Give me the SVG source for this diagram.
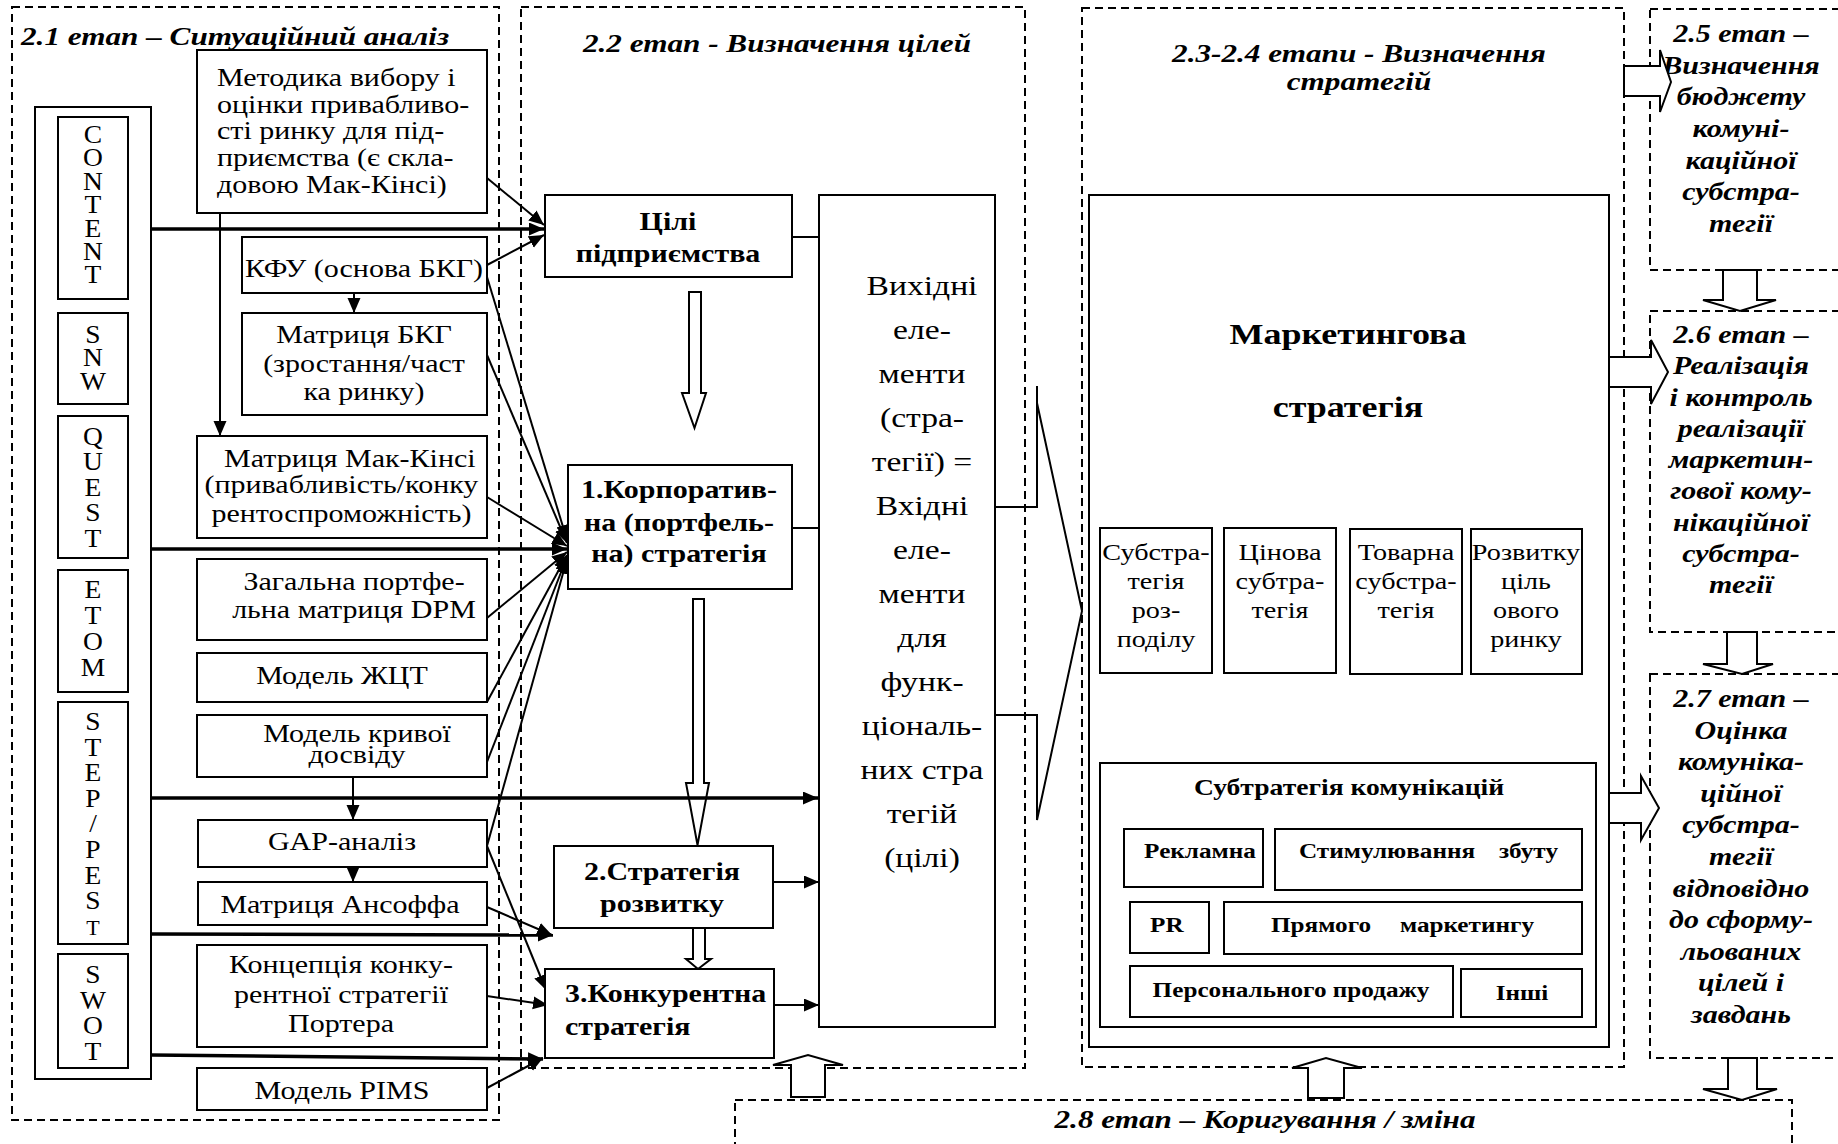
<svg xmlns="http://www.w3.org/2000/svg" width="1838" height="1144" viewBox="0 0 1838 1144">
  <defs>
    <style>
      text { font-family: "Liberation Serif", "Times New Roman", serif; font-size: 25px; fill: #000; }
      .c { text-anchor: middle; }
      .e { text-anchor: end; }
      .b { font-weight: bold; }
      .bi { font-weight: bold; font-style: italic; font-size: 26px; }
      .box { fill: #fff; stroke: #000; stroke-width: 2; }
      .frame { fill: none; stroke: #000; stroke-width: 2; stroke-dasharray: 8 5; }
      .ln { fill: none; stroke: #000; stroke-width: 2; }
      .thick { fill: none; stroke: #000; stroke-width: 3.5; }
      .hollow { fill: #fff; stroke: #000; stroke-width: 2; stroke-linejoin: miter; }
    </style>
    <marker id="ah" markerUnits="userSpaceOnUse" markerWidth="16" markerHeight="14" refX="15" refY="6.5" orient="auto">
      <path d="M0,0 L15,6.5 L0,13 z" fill="#000"/>
    </marker>
  </defs>

  <rect x="0" y="0" width="1838" height="1144" fill="#fff"/>

  <!-- stage frames (dashed) with their headings -->
  <g id="stage-frames">
    <rect class="frame" x="12" y="7" width="487" height="1113"/>
    <text class="bi" transform="translate(21,45) scale(1.2,1)">2.1 етап – Ситуаційний аналіз</text>

    <rect class="frame" x="521" y="7" width="504" height="1061"/>
    <text class="bi c" transform="translate(777,52) scale(1.2,1)">2.2 етап - Визначення цілей</text>

    <rect class="frame" x="1082" y="8" width="542" height="1059"/>
    <text class="bi c" transform="translate(1359,62) scale(1.2,1)"><tspan x="0" y="0">2.3-2.4 етапи - Визначення</tspan><tspan x="0" y="28">стратегій</tspan></text>

    <rect class="frame" x="1650" y="9" width="192" height="261"/>
    <text class="bi c" transform="translate(1741,42) scale(1.2,1)" style="font-size:25px"><tspan x="0" y="0">2.5 етап –</tspan><tspan x="0" y="31.7">Визначення</tspan><tspan x="0" y="63.4">бюджету</tspan><tspan x="0" y="95.1">комуні-</tspan><tspan x="0" y="126.8">каційної</tspan><tspan x="0" y="158.5">субстра-</tspan><tspan x="0" y="190.2">тегії</tspan></text>

    <rect class="frame" x="1650" y="311" width="192" height="321"/>
    <text class="bi c" transform="translate(1741,343) scale(1.2,1)" style="font-size:25px"><tspan x="0" y="0">2.6 етап –</tspan><tspan x="0" y="31.3">Реалізація</tspan><tspan x="0" y="62.6">і контроль</tspan><tspan x="0" y="93.9">реалізації</tspan><tspan x="0" y="125.2">маркетин-</tspan><tspan x="0" y="156.5">гової кому-</tspan><tspan x="0" y="187.8">нікаційної</tspan><tspan x="0" y="219.1">субстра-</tspan><tspan x="0" y="250.4">тегії</tspan></text>

    <rect class="frame" x="1650" y="674" width="192" height="384"/>
    <text class="bi c" transform="translate(1741,707) scale(1.2,1)" style="font-size:25px"><tspan x="0" y="0">2.7 етап –</tspan><tspan x="0" y="31.6">Оцінка</tspan><tspan x="0" y="63.2">комуніка-</tspan><tspan x="0" y="94.8">ційної</tspan><tspan x="0" y="126.4">субстра-</tspan><tspan x="0" y="158">тегії</tspan><tspan x="0" y="189.6">відповідно</tspan><tspan x="0" y="221.2">до сформу-</tspan><tspan x="0" y="252.8">льованих</tspan><tspan x="0" y="284.4">цілей і</tspan><tspan x="0" y="316">завдань</tspan></text>

    <rect class="frame" x="735" y="1100" width="1057" height="60"/>
    <text class="bi c" transform="translate(1265,1128) scale(1.2,1)">2.8 етап – Коригування / зміна</text>
  </g>

  <!-- block (hollow) arrows between stages and strategies -->
  <g id="block-arrows">
    <polygon class="hollow" points="689,292 701,292 701,393 706,393 694.5,428 682,393 689,393"/>
    <polygon class="hollow" points="693,599 704,599 704,783 709,783 697.5,845 686,783 693,783"/>
    <polygon class="hollow" points="693,928 705,928 705,959 711,959 698,969 686,959 693,959"/>
    <polygon class="hollow" points="791,1097 825,1097 825,1065 843,1065 808,1055 773,1065 791,1065"/>
    <polygon class="hollow" points="1308,1098 1344,1098 1344,1068 1362,1068 1326,1058 1292,1068 1308,1068"/>
    <polygon class="hollow" points="1624,66 1660,66 1660,50 1671,82 1660,112 1660,96 1624,96"/>
    <polygon class="hollow" points="1587,357 1651,357 1651,340 1668,372 1651,404 1651,387 1587,387"/>
    <polygon class="hollow" points="1587,793 1641,793 1641,776 1659,808 1641,840 1641,823 1587,823"/>
    <polygon class="hollow" points="1723,270 1757,270 1757,300 1776,300 1740,311 1703,300 1723,300"/>
    <polygon class="hollow" points="1727,632 1757,632 1757,664 1773,664 1742,674 1703,664 1727,664"/>
    <polygon class="hollow" points="1728,1058 1757,1058 1757,1089 1777,1089 1742,1100 1703,1089 1728,1089"/>
    <!-- large arrow from the output elements to the marketing strategy -->
    <polyline class="ln" points="995,507 1037,507 1037,386"/>
    <polyline class="ln" points="1037,403 1082,611 1037,820 1037,715 986,715 986,778"/>
  </g>

  <!-- connectors -->
  <g id="connectors">
    <line class="ln" x1="220" y1="213" x2="220" y2="436" marker-end="url(#ah)"/>
    <line class="ln" x1="354" y1="293" x2="354" y2="313" marker-end="url(#ah)"/>
    <line class="ln" x1="353" y1="777" x2="353" y2="820" marker-end="url(#ah)"/>
    <line class="ln" x1="353" y1="867" x2="353" y2="882" marker-end="url(#ah)"/>

    <line class="thick" x1="151" y1="229" x2="544" y2="229" marker-end="url(#ah)"/>
    <line class="thick" x1="151" y1="549" x2="567" y2="549" marker-end="url(#ah)"/>
    <line class="thick" x1="151" y1="798" x2="818" y2="798" marker-end="url(#ah)"/>
    <line class="thick" x1="151" y1="934" x2="553" y2="935" marker-end="url(#ah)"/>
    <line class="thick" x1="151" y1="1055" x2="543" y2="1059" marker-end="url(#ah)"/>

    <line class="ln" x1="487" y1="178" x2="544" y2="225" marker-end="url(#ah)"/>
    <line class="ln" x1="487" y1="265" x2="544" y2="235" marker-end="url(#ah)"/>
    <line class="ln" x1="487" y1="277" x2="567" y2="540" marker-end="url(#ah)"/>
    <line class="ln" x1="487" y1="355" x2="567" y2="543" marker-end="url(#ah)"/>
    <line class="ln" x1="487" y1="497" x2="567" y2="546" marker-end="url(#ah)"/>
    <line class="ln" x1="487" y1="618" x2="567" y2="552" marker-end="url(#ah)"/>
    <line class="ln" x1="487" y1="702" x2="567" y2="555" marker-end="url(#ah)"/>
    <line class="ln" x1="487" y1="762" x2="567" y2="557" marker-end="url(#ah)"/>
    <line class="ln" x1="487" y1="846" x2="567" y2="559" marker-end="url(#ah)"/>
    <line class="ln" x1="487" y1="846" x2="546" y2="990" marker-end="url(#ah)"/>
    <line class="ln" x1="487" y1="907" x2="552" y2="935" marker-end="url(#ah)"/>
    <line class="ln" x1="487" y1="996" x2="548" y2="1005" marker-end="url(#ah)"/>
    <line class="ln" x1="487" y1="1088" x2="543" y2="1058" marker-end="url(#ah)"/>

    <line class="ln" x1="792" y1="237" x2="837" y2="237" marker-end="url(#ah)"/>
    <line class="ln" x1="792" y1="528" x2="837" y2="528" marker-end="url(#ah)"/>
    <line class="ln" x1="773" y1="882" x2="819" y2="882" marker-end="url(#ah)"/>
    <line class="ln" x1="774" y1="1005" x2="819" y2="1005" marker-end="url(#ah)"/>
  </g>

  <!-- analysis tools column -->
  <g id="n-letters">
    <rect class="box" x="35" y="107" width="116" height="972"/>
    <rect class="box" x="58" y="117" width="70" height="182"/>
    <text class="c" transform="translate(93,143) scale(1.1,1)"><tspan x="0" y="0">C</tspan><tspan x="0" y="23.4">O</tspan><tspan x="0" y="46.8">N</tspan><tspan x="0" y="70.2">T</tspan><tspan x="0" y="93.6">E</tspan><tspan x="0" y="117">N</tspan><tspan x="0" y="140.4">T</tspan></text>
    <rect class="box" x="58" y="313" width="70" height="91"/>
    <text class="c" transform="translate(93,343) scale(1.1,1)"><tspan x="0" y="0">S</tspan><tspan x="0" y="23.5">N</tspan><tspan x="0" y="47">W</tspan></text>
    <rect class="box" x="58" y="416" width="70" height="142"/>
    <text class="c" transform="translate(93,445) scale(1.1,1)"><tspan x="0" y="0">Q</tspan><tspan x="0" y="25.5">U</tspan><tspan x="0" y="51">E</tspan><tspan x="0" y="76.5">S</tspan><tspan x="0" y="102">T</tspan></text>
    <rect class="box" x="58" y="570" width="70" height="122"/>
    <text class="c" transform="translate(93,598) scale(1.1,1)"><tspan x="0" y="0">E</tspan><tspan x="0" y="26">T</tspan><tspan x="0" y="52">O</tspan><tspan x="0" y="78">M</tspan></text>
    <rect class="box" x="58" y="702" width="70" height="242"/>
    <text class="c" transform="translate(93,730) scale(1.1,1)"><tspan x="0" y="0">S</tspan><tspan x="0" y="25.6">T</tspan><tspan x="0" y="51.2">E</tspan><tspan x="0" y="76.8">P</tspan><tspan x="0" y="102.4">/</tspan><tspan x="0" y="128">P</tspan><tspan x="0" y="153.6">E</tspan><tspan x="0" y="179.2">S</tspan><tspan x="0" y="204.8" style="font-size:20px">T</tspan></text>
    <rect class="box" x="58" y="954" width="70" height="114"/>
    <text class="c" transform="translate(93,983) scale(1.1,1)"><tspan x="0" y="0">S</tspan><tspan x="0" y="25.7">W</tspan><tspan x="0" y="51.4">O</tspan><tspan x="0" y="77.1">T</tspan></text>
  </g>

  <g id="n-metodyka">
    <rect class="box" x="197" y="50" width="290" height="163"/>
    <text transform="translate(217,86) scale(1.2,1)"><tspan x="0" y="0">Методика вибору і</tspan><tspan x="0" y="26.7">оцінки привабливо-</tspan><tspan x="0" y="53.4">сті ринку для під-</tspan><tspan x="0" y="80.1">приємства (є скла-</tspan><tspan x="0" y="106.8">довою Мак-Кінсі)</tspan></text>
  </g>
  <g id="n-kfu">
    <rect class="box" x="242" y="237" width="245" height="56"/>
    <text class="c" transform="translate(364,277) scale(1.2,1)">КФУ (основа БКГ)</text>
  </g>
  <g id="n-bkg">
    <rect class="box" x="242" y="313" width="245" height="102"/>
    <text class="c" transform="translate(364,343) scale(1.2,1)"><tspan x="0" y="0">Матриця БКГ</tspan><tspan x="0" y="29">(зростання/част</tspan><tspan x="0" y="57">ка ринку)</tspan></text>
  </g>
  <g id="n-mckinsey">
    <rect class="box" x="197" y="436" width="290" height="102"/>
    <text class="c" transform="translate(345,467) scale(1.2,1)"><tspan x="4" y="0">Матриця Мак-Кінсі</tspan><tspan x="-3" y="26.5">(привабливість/конку</tspan><tspan x="-3" y="55">рентоспроможність)</tspan></text>
  </g>
  <g id="n-dpm">
    <rect class="box" x="197" y="559" width="290" height="81"/>
    <text class="c" transform="translate(354,590) scale(1.2,1)"><tspan x="0" y="0">Загальна портфе-</tspan><tspan x="0" y="28">льна матриця DPM</tspan></text>
  </g>
  <g id="n-zhct">
    <rect class="box" x="197" y="653" width="290" height="49"/>
    <text class="c" transform="translate(342,684) scale(1.2,1)">Модель ЖЦТ</text>
  </g>
  <g id="n-kryva">
    <rect class="box" x="197" y="715" width="290" height="62"/>
    <text class="c" transform="translate(357,742) scale(1.2,1)"><tspan x="0" y="0">Модель кривої</tspan><tspan x="0" y="21">досвіду</tspan></text>
  </g>
  <g id="n-gap">
    <rect class="box" x="198" y="820" width="289" height="47"/>
    <text class="c" transform="translate(342,850) scale(1.2,1)">GAP-аналіз</text>
  </g>
  <g id="n-ansoff">
    <rect class="box" x="198" y="882" width="289" height="43"/>
    <text class="c" transform="translate(340,913) scale(1.2,1)">Матриця Ансоффа</text>
  </g>
  <g id="n-porter">
    <rect class="box" x="197" y="945" width="290" height="102"/>
    <text class="c" transform="translate(341,973) scale(1.2,1)"><tspan x="0" y="0">Концепція конку-</tspan><tspan x="0" y="30">рентної стратегії</tspan><tspan x="0" y="59">Портера</tspan></text>
  </g>
  <g id="n-pims">
    <rect class="box" x="197" y="1068" width="290" height="42"/>
    <text class="c" transform="translate(342,1099) scale(1.2,1)">Модель PIMS</text>
  </g>

  <!-- goals and strategy levels -->
  <g id="n-tsili">
    <rect class="box" x="545" y="195" width="247" height="82"/>
    <text class="c b" transform="translate(668,230) scale(1.2,1)"><tspan x="0" y="0">Цілі</tspan><tspan x="0" y="32">підприємства</tspan></text>
  </g>
  <g id="n-korp">
    <rect class="box" x="568" y="465" width="224" height="124"/>
    <text class="c b" transform="translate(679,498) scale(1.2,1)"><tspan x="0" y="0">1.Корпоратив-</tspan><tspan x="0" y="33">на (портфель-</tspan><tspan x="0" y="64">на) стратегія</tspan></text>
  </g>
  <g id="n-rozv">
    <rect class="box" x="554" y="846" width="219" height="82"/>
    <text class="c b" transform="translate(662,880) scale(1.2,1)"><tspan x="0" y="0">2.Стратегія</tspan><tspan x="0" y="32">розвитку</tspan></text>
  </g>
  <g id="n-konk">
    <rect class="box" x="545" y="969" width="229" height="89"/>
    <text class="b" transform="translate(565,1002) scale(1.2,1)"><tspan x="0" y="0">3.Конкурентна</tspan><tspan x="0" y="33">стратегія</tspan></text>
  </g>
  <g id="n-vykhidni">
    <rect class="box" x="819" y="195" width="176" height="832"/>
    <text class="c" transform="translate(922,295) scale(1.2,1)" style="font-size:28px"><tspan x="0" y="0">Вихідні</tspan><tspan x="0" y="44">еле-</tspan><tspan x="0" y="88">менти</tspan><tspan x="0" y="132">(стра-</tspan><tspan x="0" y="176">тегії) =</tspan><tspan x="0" y="220">Вхідні</tspan><tspan x="0" y="264">еле-</tspan><tspan x="0" y="308">менти</tspan><tspan x="0" y="352">для</tspan><tspan x="0" y="396">функ-</tspan><tspan x="0" y="440">ціональ-</tspan><tspan x="0" y="484">них стра</tspan><tspan x="0" y="528">тегій</tspan><tspan x="0" y="572">(цілі)</tspan></text>
  </g>

  <!-- marketing strategy -->
  <g id="n-marketing">
    <rect class="box" x="1089" y="195" width="520" height="852"/>
    <text class="c b" transform="translate(1348,344) scale(1.2,1)" style="font-size:30px"><tspan x="0" y="0">Маркетингова</tspan><tspan x="0" y="73">стратегія</tspan></text>
  </g>
  <g id="n-rozpodil">
    <rect class="box" x="1100" y="528" width="112" height="145"/>
    <text class="c" transform="translate(1156,560) scale(1.2,1)" style="font-size:23.5px"><tspan x="0" y="0">Субстра-</tspan><tspan x="0" y="29">тегія</tspan><tspan x="0" y="58">роз-</tspan><tspan x="0" y="87">поділу</tspan></text>
  </g>
  <g id="n-tsinova">
    <rect class="box" x="1224" y="528" width="112" height="145"/>
    <text class="c" transform="translate(1280,560) scale(1.2,1)" style="font-size:23.5px"><tspan x="0" y="0">Цінова</tspan><tspan x="0" y="29">субтра-</tspan><tspan x="0" y="58">тегія</tspan></text>
  </g>
  <g id="n-tovarna">
    <rect class="box" x="1350" y="529" width="112" height="145"/>
    <text class="c" transform="translate(1406,560) scale(1.2,1)" style="font-size:23.5px"><tspan x="0" y="0">Товарна</tspan><tspan x="0" y="29">субстра-</tspan><tspan x="0" y="58">тегія</tspan></text>
  </g>
  <g id="n-rozvytku">
    <rect class="box" x="1471" y="529" width="111" height="145"/>
    <text class="c" transform="translate(1526,560) scale(1.2,1)" style="font-size:23.5px"><tspan x="0" y="0">Розвитку</tspan><tspan x="0" y="29">ціль</tspan><tspan x="0" y="58">ового</tspan><tspan x="0" y="87">ринку</tspan></text>
  </g>
  <g id="n-komunikatsii">
    <rect class="box" x="1100" y="763" width="496" height="264"/>
    <text class="c b" transform="translate(1349,795) scale(1.2,1)" style="font-size:23px">Субтратегія комунікацій</text>
  </g>
  <g id="n-reklamna">
    <rect class="box" x="1124" y="829" width="139" height="58"/>
    <text class="c b" transform="translate(1200,858) scale(1.2,1)" style="font-size:21px">Рекламна</text>
  </g>
  <g id="n-stymul">
    <rect class="box" x="1275" y="829" width="307" height="61"/>
    <text class="b" transform="translate(1299,858) scale(1.2,1)" style="font-size:21px">Стимулювання</text>
    <text class="b e" transform="translate(1558,858) scale(1.2,1)" style="font-size:21px">збуту</text>
  </g>
  <g id="n-pr">
    <rect class="box" x="1130" y="902" width="79" height="51"/>
    <text class="b" transform="translate(1150,932) scale(1.2,1)" style="font-size:21px">PR</text>
  </g>
  <g id="n-priamyi">
    <rect class="box" x="1224" y="902" width="358" height="52"/>
    <text class="b" transform="translate(1271,932) scale(1.2,1)" style="font-size:21px">Прямого</text>
    <text class="b e" transform="translate(1534,932) scale(1.2,1)" style="font-size:21px">маркетингу</text>
  </g>
  <g id="n-personal">
    <rect class="box" x="1130" y="966" width="323" height="51"/>
    <text class="c b" transform="translate(1291,997) scale(1.2,1)" style="font-size:21px">Персонального продажу</text>
  </g>
  <g id="n-inshi">
    <rect class="box" x="1461" y="969" width="121" height="48"/>
    <text class="c b" transform="translate(1522,1000) scale(1.2,1)" style="font-size:21px">Інші</text>
  </g>
</svg>
